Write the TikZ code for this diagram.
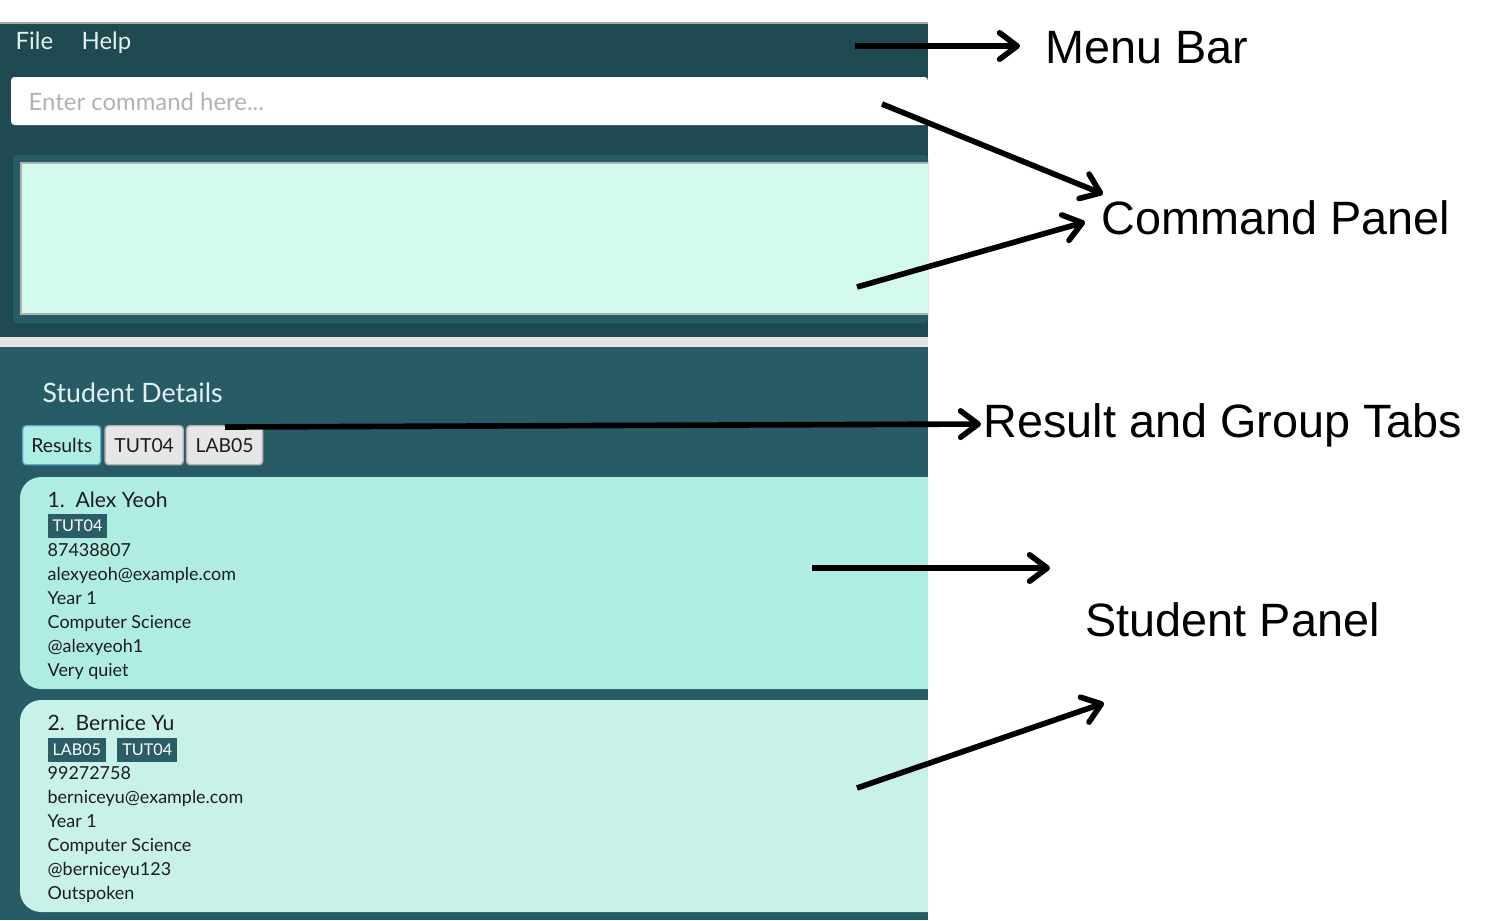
\documentclass[tikz,border=0pt]{standalone}
\usepackage{fontspec}
\setmainfont{Liberation Sans}
\newfontfamily\uifont{Lato}
\usepackage{xcolor}
\usetikzlibrary{arrows.meta, positioning}

\definecolor{menubg}{HTML}{1F4A52}
\definecolor{panelbg}{HTML}{275B65}
\definecolor{resultbg}{HTML}{D4FAEE}
\definecolor{cardone}{HTML}{AFEDE2}
\definecolor{cardtwo}{HTML}{C8F2E9}
\definecolor{chipbg}{HTML}{2B5D66}
\definecolor{tabon}{HTML}{AEEDE3}
\definecolor{tabline}{HTML}{62A6D0}
\definecolor{taboff}{HTML}{E6E6E6}
\definecolor{sepgrey}{HTML}{E4E4E4}
\definecolor{headtext}{HTML}{E3F1EF}
\definecolor{hinttext}{HTML}{B2B2B2}
\definecolor{inktext}{HTML}{1C1C1C}

\tikzset{
    callout/.style={line width=1.6pt, -{Straight Barb[length=5pt,width=7.5pt,line cap=round,line join=round]}},
    note/.style={font=\fontsize{13.3}{16}\selectfont, anchor=base west, inner sep=0pt},
    ui/.style={font=\uifont\fontsize{5.1}{6.2}\selectfont, text=inktext, anchor=base west, inner sep=0pt},
    chip/.style={fill=chipbg, text=white, font=\uifont\fontsize{4.6}{5}\selectfont,
        inner xsep=1.4pt, inner ysep=0pt, minimum height=0.24cm, anchor=north west},
    tabbox/.style={draw=black!30, fill=taboff, rounded corners=1pt, font=\uifont\fontsize{5.5}{6}\selectfont,
        text=inktext, minimum width=0.78cm, minimum height=0.39cm, inner sep=0pt},
}

\begin{document}
\begin{tikzpicture}[x=0.01cm, y=-0.01cm]
    \useasboundingbox (0,0) rectangle (1512,920);
    \fill[white] (0,0) rectangle (1512,920);

    % Window background: menu bar and command area
    \fill[menubg] (0,23) rectangle (928,337);
    \draw[black!35, line width=0.3pt] (0,23) -- (928,23);
    \node[ui, font=\uifont\fontsize{6.8}{8}\selectfont, text=headtext] (file) at (15,49) {File};
    \node[ui, font=\uifont\fontsize{6.8}{8}\selectfont, text=headtext] (help) at (81,49) {Help};

    % Command box and result display
    \fill[white, rounded corners=1pt] (11,77) rectangle (928,125);
    \node[ui, font=\uifont\fontsize{6.8}{8}\selectfont, text=hinttext] (hint) at (28,110) {Enter command here...};
    \fill[panelbg, rounded corners=1pt] (13,155) rectangle (928,323);
    \fill[resultbg] (21,163) rectangle (928,314);
    \draw[black!30, line width=0.3pt] (928,163) -- (21,163) -- (21,314) -- (928,314);

    % Separator and student panel
    \fill[sepgrey] (0,337) rectangle (928,347);
    \fill[panelbg] (0,347) rectangle (928,920);
    \node[ui, font=\uifont\fontsize{7.6}{9}\selectfont, text=headtext] (details) at (42,402) {Student Details};

    % Tabs
    \node[tabbox, fill=tabon, draw=tabline, anchor=north west] (restab) at (22,425) {Results};
    \node[tabbox, right=0.03cm of restab] (tuttab) {TUT04};
    \node[tabbox, right=0.02cm of tuttab, minimum width=0.76cm] (labtab) {LAB05};

    % Student cards
    \fill[cardone, rounded corners=6pt] (928,477) -- (20,477) -- (20,689) -- (928,689);
    \fill[cardtwo, rounded corners=6pt] (928,700) -- (20,700) -- (20,912) -- (928,912);

    \node[ui, font=\uifont\fontsize{6}{7}\selectfont] (nameone) at (47,507) {1.\ \ Alex Yeoh};
    \node[chip] (tagone) at (47,513) {TUT04};
    \node[ui] (phoneone) at (47,556) {87438807};
    \node[ui] (mailone) at (47,580) {alexyeoh@example.com};
    \node[ui] (yearone) at (47,604) {Year 1};
    \node[ui] (majorone) at (47,628) {Computer Science};
    \node[ui] (handleone) at (47,652) {@alexyeoh1};
    \node[ui] (remarkone) at (47,676) {Very quiet};

    \node[ui, font=\uifont\fontsize{6}{7}\selectfont] (nametwo) at (47,730) {2.\ \ Bernice Yu};
    \node[chip] (tagtwoa) at (47,737) {LAB05};
    \node[chip, right=0.1cm of tagtwoa.north east, anchor=north west] (tagtwob) {TUT04};
    \node[ui] (phonetwo) at (47,779) {99272758};
    \node[ui] (mailtwo) at (47,803) {berniceyu@example.com};
    \node[ui] (yeartwo) at (47,827) {Year 1};
    \node[ui] (majortwo) at (47,851) {Computer Science};
    \node[ui] (handletwo) at (47,875) {@berniceyu123};
    \node[ui] (remarktwo) at (47,899) {Outspoken};

    % Labels on the right
    \node[note] (menulbl) at (1045,63) {Menu Bar};
    \node[note] (cmdlbl) at (1101,234) {Command Panel};
    \node[note] (tabslbl) at (983,437) {Result and Group Tabs};
    \node[note] (studentlbl) at (1085,636) {Student Panel};

    % Arrows
    \coordinate (menufrom) at (855,46);
    \coordinate (menuto) at (1020,46);
    \coordinate (cmdfroma) at (882,104);
    \coordinate (cmdtoa) at (1103,194);
    \coordinate (cmdfromb) at (857,287);
    \coordinate (cmdtob) at (1085,222);
    \coordinate (tabsfrom) at (225,427);
    \coordinate (tabsto) at (981,424);
    \coordinate (studfroma) at (812,568);
    \coordinate (studtoa) at (1050,568);
    \coordinate (studfromb) at (857,788);
    \coordinate (studtob) at (1104,703);

    \draw[callout] (menufrom) -- (menuto);
    \draw[callout] (cmdfroma) -- (cmdtoa);
    \draw[callout] (cmdfromb) -- (cmdtob);
    \draw[callout] (tabsfrom) -- (tabsto);
    \draw[callout] (studfroma) -- (studtoa);
    \draw[callout] (studfromb) -- (studtob);

\end{tikzpicture}
\end{document}
